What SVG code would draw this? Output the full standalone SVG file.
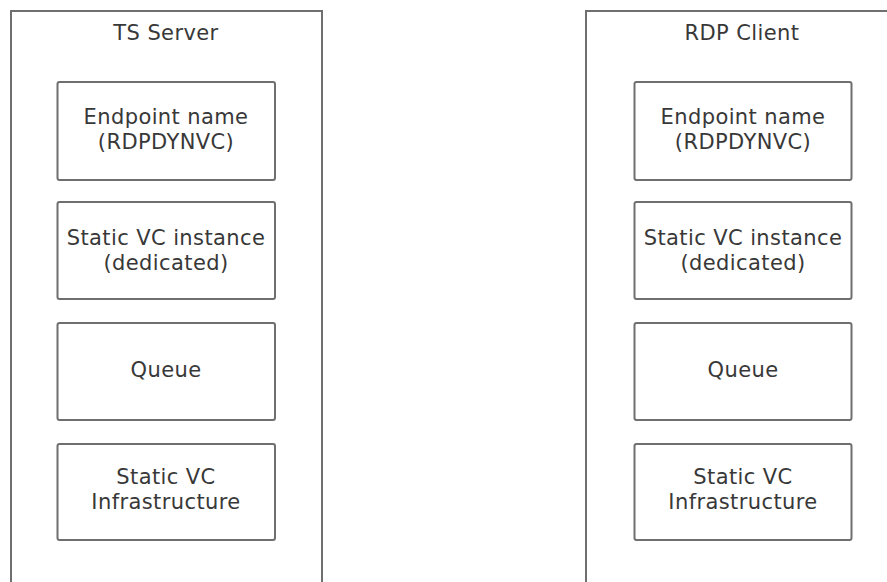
<svg xmlns="http://www.w3.org/2000/svg" width="887" height="582" viewBox="0 0 887 582">
<style>
.outer{fill:none;stroke:#6f6f6f;stroke-width:2}
.box{fill:#ffffff;stroke:#6f6f6f;stroke-width:2}
text{font-family:"DejaVu Sans","Verdana",sans-serif;font-size:21px;letter-spacing:0.4px;fill:#383838;text-anchor:middle}
</style>
<rect width="887" height="582" fill="#ffffff"/>
<g id="ts-server">
<path class="outer" d="M11,590 V11 H322 V590"/>
<text x="166" y="40">TS Server</text>
</g>
<g id="ts-endpoint">
<rect class="box" x="57.5" y="82" width="217.5" height="98" rx="2"/>
<text x="166" y="124">Endpoint name</text>
<text x="166" y="149">(RDPDYNVC)</text>
</g>
<g id="ts-static-instance">
<rect class="box" x="57.5" y="202" width="217.5" height="97" rx="2"/>
<text x="166" y="245">Static VC instance</text>
<text x="166" y="270">(dedicated)</text>
</g>
<g id="ts-queue">
<rect class="box" x="57.5" y="323" width="217.5" height="97" rx="2"/>
<text x="166" y="377">Queue</text>
</g>
<g id="ts-infra">
<rect class="box" x="57.5" y="444" width="217.5" height="96" rx="2"/>
<text x="166" y="484">Static VC</text>
<text x="166" y="509">Infrastructure</text>
</g>
<g id="rdp-client">
<path class="outer" d="M586,590 V11 H900 V590"/>
<text x="742" y="40">RDP Client</text>
</g>
<g id="rdp-endpoint">
<rect class="box" x="634.5" y="82" width="217" height="98" rx="2"/>
<text x="743" y="124">Endpoint name</text>
<text x="743" y="149">(RDPDYNVC)</text>
</g>
<g id="rdp-static-instance">
<rect class="box" x="634.5" y="202" width="217" height="97" rx="2"/>
<text x="743" y="245">Static VC instance</text>
<text x="743" y="270">(dedicated)</text>
</g>
<g id="rdp-queue">
<rect class="box" x="634.5" y="323" width="217" height="97" rx="2"/>
<text x="743" y="377">Queue</text>
</g>
<g id="rdp-infra">
<rect class="box" x="634.5" y="444" width="217" height="96" rx="2"/>
<text x="743" y="484">Static VC</text>
<text x="743" y="509">Infrastructure</text>
</g>
<g id="connectors"></g>
</svg>
